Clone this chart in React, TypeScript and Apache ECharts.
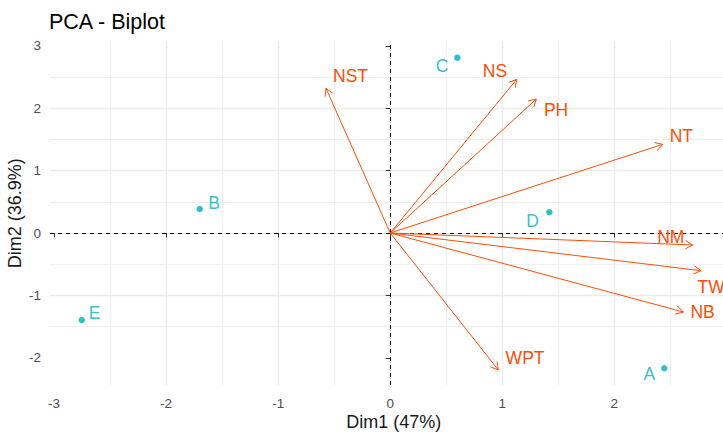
import React, { useEffect, useRef } from "react";
import * as echarts from "echarts";

// ---- Data ----
const varNames = ["NST", "NS", "PH", "NT", "NM", "TW", "NB", "WPT"];
const varDim1 = [-0.573, 1.129, 1.304, 2.432, 2.699, 2.774, 2.616, 0.965];
const varDim2 = [2.319, 2.463, 2.147, 1.421, -0.192, -0.604, -1.266, -2.196];

const indNames = ["A", "B", "C", "D", "E"];
const indDim1 = [2.446, -1.7, 0.599, 1.42, -2.753];
const indDim2 = [-2.168, 0.385, 2.81, 0.332, -1.394];

const xTicks = [-3, -2, -1, 0, 1, 2, 3];
const yTicks = [-2, -1, 0, 1, 2, 3];

const titleText = "PCA - Biplot";
const xTitle = "Dim1 (47%)";
const yTitle = "Dim2 (36.9%)";

// ---- Styles / label placement (pixel offsets of label centre from mark) ----
const FONT = "'Liberation Sans', Arial, Helvetica, sans-serif";
const VAR_COLOR = "#FC4E07";
const IND_COLOR = "#00AFBB";
const LABEL_SIZE = 17.5;
const varLabelOffset: Record<string, [number, number]> = {
  NST: [24.5, -12.8],
  NS: [-21.7, -8.5],
  PH: [19.7, 10.7],
  NT: [18.6, -8],
  NM: [-21.9, -7.7],
  TW: [10, 16],
  NB: [19.2, 0.5],
  WPT: [26.7, -12.5],
};
const indLabelOffset: Record<string, [number, number]> = {
  A: [-15, 5.7],
  B: [14.3, -6],
  C: [-15.3, 8.3],
  D: [-16.8, 8.7],
  E: [13, -6.7],
};

export default function App() {
  const ref = useRef<HTMLDivElement>(null);

  useEffect(() => {
    document.body.style.margin = "0";
    document.body.style.overflow = "hidden";
    if (!ref.current) return;
    const chart = echarts.init(ref.current, undefined, { renderer: "svg" });

    const arrowData = varNames.map((n, i) => ({ name: n, value: [varDim1[i], varDim2[i]] }));
    const pointData = indNames.map((n, i) => ({
      name: n,
      value: [indDim1[i], indDim2[i]],
      label: { offset: indLabelOffset[n] },
    }));

    const axisCommon = {
      type: "value" as const,
      minInterval: 1,
      maxInterval: 1,
      axisLine: { show: false },
      axisTick: { show: true, length: 4.5, lineStyle: { color: "#333333", width: 1 } },
      splitLine: {
        show: true,
        showMinLine: false,
        showMaxLine: false,
        lineStyle: { color: "#EBEBEB", width: 1.4 },
      },
      minorTick: { show: false, splitNumber: 2 },
      minorSplitLine: { show: true, lineStyle: { color: "#EFEFEF", width: 1 } },
      nameTextStyle: { fontFamily: FONT, fontSize: 18, color: "#1A1A1A" },
    };

    chart.setOption({
      animation: false,
      backgroundColor: "#ffffff",
      title: {
        text: titleText,
        left: 49,
        top: 11,
        padding: 0,
        textStyle: { fontFamily: FONT, fontSize: 21.5, fontWeight: "normal", color: "#000000" },
      },
      grid: {
        left: 50,
        top: 41.7,
        width: 687.6,
        height: 343.3,
        containLabel: false,
        outerBoundsMode: "none",
      },
      xAxis: {
        ...axisCommon,
        min: -3.036,
        max: 3.1,
        name: xTitle,
        nameLocation: "middle",
        nameGap: 28,
        nameMoveOverlap: false,
        axisTick: { ...axisCommon.axisTick, customValues: xTicks },
        axisLabel: {
          customValues: xTicks,
          margin: 11,
          fontFamily: FONT,
          fontSize: 13.5,
          color: "#4D4D4D",
        },
      },
      yAxis: {
        ...axisCommon,
        min: -2.436,
        max: 3.066,
        name: yTitle,
        nameLocation: "middle",
        nameGap: 26,
        nameMoveOverlap: false,
        axisTick: { ...axisCommon.axisTick, customValues: yTicks },
        axisLabel: {
          customValues: yTicks,
          margin: 9,
          fontFamily: FONT,
          fontSize: 13.5,
          color: "#4D4D4D",
        },
      },
      series: [
        {
          type: "scatter",
          data: pointData,
          symbol: "circle",
          symbolSize: 6.5,
          itemStyle: { color: IND_COLOR },
          z: 3,
          label: {
            show: true,
            position: "inside",
            formatter: "{b}",
            fontFamily: FONT,
            fontSize: LABEL_SIZE,
            color: IND_COLOR,
          },
          markLine: {
            silent: true,
            symbol: "none",
            z: 1,
            label: { show: false },
            lineStyle: { color: "#000000", width: 1, type: [4, 4] },
            data: [{ xAxis: 0 }, { yAxis: 0 }],
          },
        },
        {
          type: "custom",
          z: 2,
          data: arrowData,
          renderItem: (params: any, api: any) => {
            const x = api.value(0);
            const y = api.value(1);
            const name = varNames[params.dataIndex];
            const p0 = api.coord([0, 0]);
            const p1 = api.coord([x, y]);
            const ang = Math.atan2(p1[1] - p0[1], p1[0] - p0[0]);
            const L = 8.5;
            const a1 = ang + Math.PI / 6;
            const a2 = ang - Math.PI / 6;
            const h1 = [p1[0] - L * Math.cos(a1), p1[1] - L * Math.sin(a1)];
            const h2 = [p1[0] - L * Math.cos(a2), p1[1] - L * Math.sin(a2)];
            const off = varLabelOffset[name] || [0, 0];
            return {
              type: "group",
              children: [
                {
                  type: "line",
                  shape: { x1: p0[0], y1: p0[1], x2: p1[0], y2: p1[1] },
                  style: { stroke: VAR_COLOR, lineWidth: 1, fill: "none" },
                },
                {
                  type: "polyline",
                  shape: { points: [h1, p1, h2] },
                  style: { stroke: VAR_COLOR, lineWidth: 1, fill: "none" },
                },
                {
                  type: "text",
                  x: p1[0] + off[0],
                  y: p1[1] + off[1],
                  style: {
                    text: name,
                    fill: VAR_COLOR,
                    fontFamily: FONT,
                    fontSize: LABEL_SIZE,
                    align: "center",
                    verticalAlign: "middle",
                  },
                },
              ],
            };
          },
        },
      ],
    });

    return () => chart.dispose();
  }, []);

  return <div ref={ref} style={{ width: 760, height: 433 }} />;
}
